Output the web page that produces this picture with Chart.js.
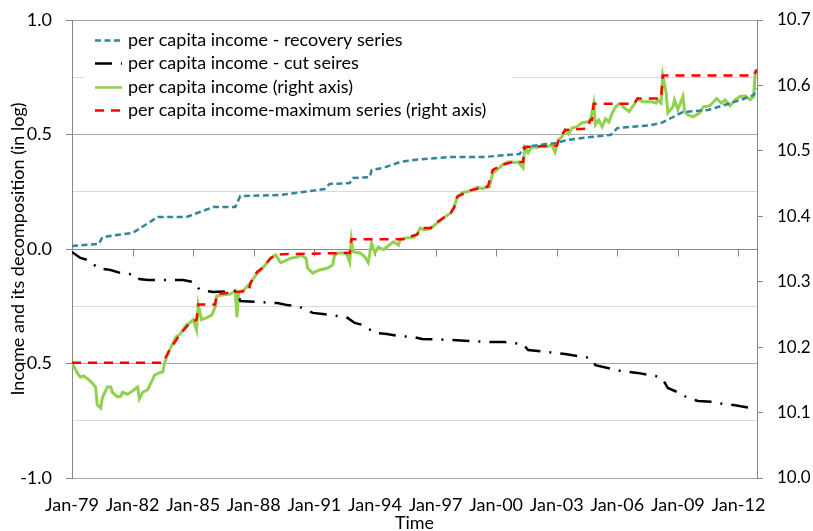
<!DOCTYPE html>
<html><head><meta charset="utf-8">
<script src="https://cdn.jsdelivr.net/npm/chart.js@4.4.1/dist/chart.umd.min.js"></script>
<style>html,body{margin:0;padding:0;background:#fff;}canvas{display:block;}</style>
</head><body>
<canvas id="c" width="813" height="531"></canvas>
<script>
// x values: months since Jan-1979
const tickLabels = ['Jan-79','Jan-82','Jan-85','Jan-88','Jan-91','Jan-94','Jan-97','Jan-00','Jan-03','Jan-06','Jan-09','Jan-12'];
const monthsPerTick = 36;
const lastMonth = 407;

// per capita income - recovery series (left axis) [month, value]
const recoverySeries = [[0,0.013],[16,0.022],[18,0.052],[36,0.07],[51,0.14],[68,0.14],[84,0.183],[97,0.183],[100,0.231],[124,0.236],
 [150,0.262],[153,0.284],[165,0.288],[167,0.31],[177,0.314],[178,0.345],[185,0.354],[195,0.38],[203,0.389],[225,0.402],
 [245,0.402],[266,0.415],[268,0.441],[273,0.45],[288,0.463],[294,0.476],[308,0.489],[320,0.498],[324,0.528],[344,0.541],
 [350,0.55],[363,0.598],[378,0.607],[397,0.65],[405,0.672],[407,0.70]];

// per capita income - cut series (left axis)
const cutSeries = [[0,-0.013],[5,-0.039],[11,-0.052],[15,-0.083],[23,-0.092],[29,-0.105],[34,-0.109],[39,-0.118],[40,-0.131],[45,-0.135],
 [66,-0.135],[72,-0.144],[76,-0.179],[84,-0.188],[98,-0.183],[100,-0.227],[122,-0.236],[128,-0.245],[134,-0.249],[143,-0.279],
 [149,-0.284],[163,-0.297],[168,-0.323],[173,-0.332],[180,-0.367],[187,-0.371],[194,-0.38],[203,-0.384],[208,-0.393],[225,-0.397],
 [247,-0.406],[257,-0.406],[268,-0.415],[271,-0.441],[287,-0.454],[293,-0.459],[308,-0.476],[311,-0.507],[326,-0.533],[336,-0.541],
 [347,-0.555],[351,-0.568],[354,-0.607],[361,-0.629],[366,-0.651],[372,-0.664],[381,-0.668],[387,-0.677],[393,-0.681],[403,-0.694],[406,-0.699]];

// per capita income (right axis)
const incomeSeries = [[0,10.176],[3,10.161],[5,10.154],[7,10.156],[10,10.15],[12,10.145],[14,10.139],[15,10.112],[17,10.107],[18,10.122],
 [21,10.139],[23,10.139],[24,10.131],[27,10.124],[29,10.125],[30,10.131],[33,10.128],[34,10.13],[36,10.133],[39,10.139],
 [40,10.121],[42,10.131],[45,10.135],[48,10.151],[49,10.157],[52,10.161],[54,10.162],[55,10.176],[58,10.196],[62,10.216],
 [64,10.219],[68,10.234],[70,10.237],[72,10.242],[74,10.226],[75,10.265],[77,10.242],[80,10.245],[83,10.249],[85,10.261],
 [86,10.278],[90,10.28],[94,10.281],[97,10.286],[98,10.246],[99,10.284],[102,10.287],[106,10.298],[110,10.313],[114,10.323],
 [118,10.336],[121,10.341],[124,10.329],[125,10.33],[130,10.336],[134,10.338],[136,10.341],[139,10.336],[140,10.321],[143,10.313],
 [147,10.318],[152,10.321],[155,10.326],[156,10.341],[159,10.344],[163,10.344],[165,10.33],[166,10.364],[167,10.346],[171,10.344],
 [174,10.338],[176,10.329],[178,10.359],[180,10.344],[182,10.353],[185,10.349],[188,10.355],[191,10.361],[194,10.356],[195,10.365],
 [199,10.367],[203,10.368],[205,10.373],[207,10.382],[209,10.379],[213,10.381],[217,10.39],[221,10.398],[225,10.405],[227,10.414],
 [229,10.43],[232,10.436],[237,10.439],[240,10.443],[241,10.445],[244,10.442],[246,10.445],[248,10.445],[250,10.466],[253,10.472],
 [256,10.479],[259,10.483],[262,10.483],[263,10.482],[265,10.483],[268,10.474],[269,10.505],[271,10.497],[273,10.506],[276,10.505],
 [279,10.508],[282,10.506],[285,10.509],[287,10.498],[289,10.517],[291,10.521],[293,10.532],[295,10.526],[297,10.535],[300,10.537],
 [303,10.543],[306,10.544],[308,10.547],[310,10.572],[311,10.54],[313,10.547],[315,10.537],[317,10.549],[319,10.544],[321,10.558],
 [323,10.567],[325,10.572],[326,10.572],[328,10.566],[331,10.56],[334,10.571],[336,10.58],[339,10.575],[344,10.575],[347,10.573],
 [348,10.578],[350,10.573],[351,10.615],[353,10.589],[354,10.558],[357,10.567],[358,10.578],[360,10.563],[363,10.583],[364,10.56],
 [366,10.555],[369,10.552],[373,10.558],[375,10.567],[379,10.569],[383,10.58],[386,10.573],[388,10.578],[391,10.569],[394,10.578],
 [397,10.583],[400,10.584],[403,10.578],[405,10.583],[406,10.621],[407,10.624]];

// per capita income - maximum series (right axis)
const maxSeries = [[0,10.176],[54,10.176],[58,10.196],[64,10.219],[70,10.237],[74,10.242],[75,10.265],[85,10.265],[86,10.281],[96,10.284],
 [105,10.286],[106,10.298],[110,10.315],[114,10.323],[118,10.336],[121,10.341],[125,10.342],[165,10.344],[166,10.365],[197,10.365],
 [199,10.368],[205,10.372],[208,10.382],[213,10.382],[217,10.391],[225,10.405],[227,10.413],[229,10.43],[237,10.44],[247,10.445],
 [250,10.471],[256,10.479],[262,10.483],[268,10.483],[269,10.506],[288,10.508],[290,10.521],[293,10.532],[306,10.534],[308,10.547],
 [309,10.547],[310,10.572],[334,10.572],[336,10.58],[350,10.58],[351,10.615],[405,10.615],[407,10.624]];

const toXY = s => s.map(([m, v]) => ({x: m, y: v}));
const FONT = 'Lato';
Chart.defaults.font.family = FONT;
Chart.defaults.font.size = 18;
Chart.defaults.color = '#000';

const isMajor = v => Math.abs(v * 2 - Math.round(v * 2)) < 1e-6;

const zeroAxisTicks = {
  id: 'zeroAxisTicks',
  beforeDatasetsDraw(chart) {
    const {ctx, scales: {x, y}} = chart;
    const y0 = Math.round(y.getPixelForValue(0)) + 0.5;
    ctx.save();
    ctx.strokeStyle = '#868686';
    ctx.lineWidth = 1;
    ctx.beginPath();
    x.ticks.forEach(t => {
      const px = Math.round(x.getPixelForValue(t.value)) + 0.5;
      ctx.moveTo(px, y0); ctx.lineTo(px, y0 + 7);
    });
    ctx.stroke();
    ctx.restore();
  }
};

const legendBox = {
  id: 'legendBox',
  beforeDatasetsDraw(chart) {
    const {ctx, chartArea} = chart;
    const left = chartArea.left + 12, top = chartArea.top + 6;
    ctx.save();
    ctx.fillStyle = '#fff';
    ctx.fillRect(left, top, 428, 97);
    ctx.font = '18px ' + FONT;
    ctx.textBaseline = 'middle';
    chart.data.datasets.forEach((ds, i) => {
      const cy = Math.round(top + 14 + i * 23.4) + 0.5;
      ctx.beginPath();
      ctx.setLineDash(ds.borderDash || []);
      ctx.strokeStyle = ds.borderColor;
      ctx.lineWidth = Math.min(ds.borderWidth, 2.5);
      ctx.moveTo(left + 11, cy); ctx.lineTo(left + 38, cy);
      ctx.stroke();
      ctx.setLineDash([]);
      ctx.fillStyle = '#000';
      ctx.fillText(ds.label, left + 44, cy);
    });
    ctx.restore();
  }
};

const noVPad = s => { s.paddingTop = 0; s.paddingBottom = 0; };

new Chart(document.getElementById('c'), {
  type: 'line',
  data: {
    datasets: [
      {label: 'per capita income - recovery series', data: toXY(recoverySeries), yAxisID: 'y',
       borderColor: '#31859C', borderWidth: 2.5, borderDash: [6, 3.5], order: 1},
      {label: 'per capita income - cut seires', data: toXY(cutSeries), yAxisID: 'y',
       borderColor: '#000000', borderWidth: 2.5, borderDash: [17, 9, 2, 9], order: 2},
      {label: 'per capita income (right axis)', data: toXY(incomeSeries), yAxisID: 'y1',
       borderColor: '#92D050', borderWidth: 3, order: 3},
      {label: 'per capita income-maximum series (right axis)', data: toXY(maxSeries), yAxisID: 'y1',
       borderColor: '#FF0000', borderWidth: 2.5, borderDash: [9, 7], order: 0}
    ]
  },
  options: {
    responsive: false,
    animation: false,
    devicePixelRatio: 1,
    layout: {padding: {top: 20, left: 0, right: 0, bottom: 0}},
    elements: {point: {radius: 0}, line: {tension: 0, fill: false, borderCapStyle: 'butt'}},
    plugins: {legend: {display: false}, tooltip: {enabled: false}},
    scales: {
      x: {
        type: 'linear', min: 0, max: lastMonth,
        afterBuildTicks: s => { s.ticks = tickLabels.map((_, i) => ({value: i * monthsPerTick})); },
        afterFit: s => { s.height = 53; },
        ticks: {autoSkip: false, maxRotation: 0, padding: 16,
          callback: (v) => tickLabels[Math.round(v / monthsPerTick)]},
        grid: {display: false, drawTicks: false},
        border: {display: false},
        title: {display: true, text: 'Time', padding: {top: 0, bottom: -3}}
      },
      y: {
        position: 'left', min: -1, max: 1,
        afterFit: s => { s.width = 72; noVPad(s); },
        ticks: {stepSize: 0.25, padding: 14, callback: v => isMajor(v) ? v.toFixed(1) : ''},
        grid: {
          color: c => {
            const v = c.tick.value;
            if (Math.abs(v) < 1e-6) return '#868686';
            return isMajor(v) ? '#a6a6a6' : '#d9d9d9';
          },
          tickColor: c => isMajor(c.tick.value) ? '#868686' : 'rgba(0,0,0,0)',
          tickLength: 6
        },
        border: {color: '#868686'},
        title: {display: true, text: 'Income and its decomposition (in log)', padding: {top: 7, bottom: 0}}
      },
      y1: {
        position: 'right', min: 10, max: 10.7,
        afterFit: s => { s.width = 56; noVPad(s); },
        ticks: {stepSize: 0.1, padding: 14, font: {size: 17}, callback: v => v.toFixed(1)},
        grid: {drawOnChartArea: false, color: '#868686', tickLength: 6},
        border: {color: '#868686'}
      }
    }
  },
  plugins: [zeroAxisTicks, legendBox]
});
</script>
</body></html>
